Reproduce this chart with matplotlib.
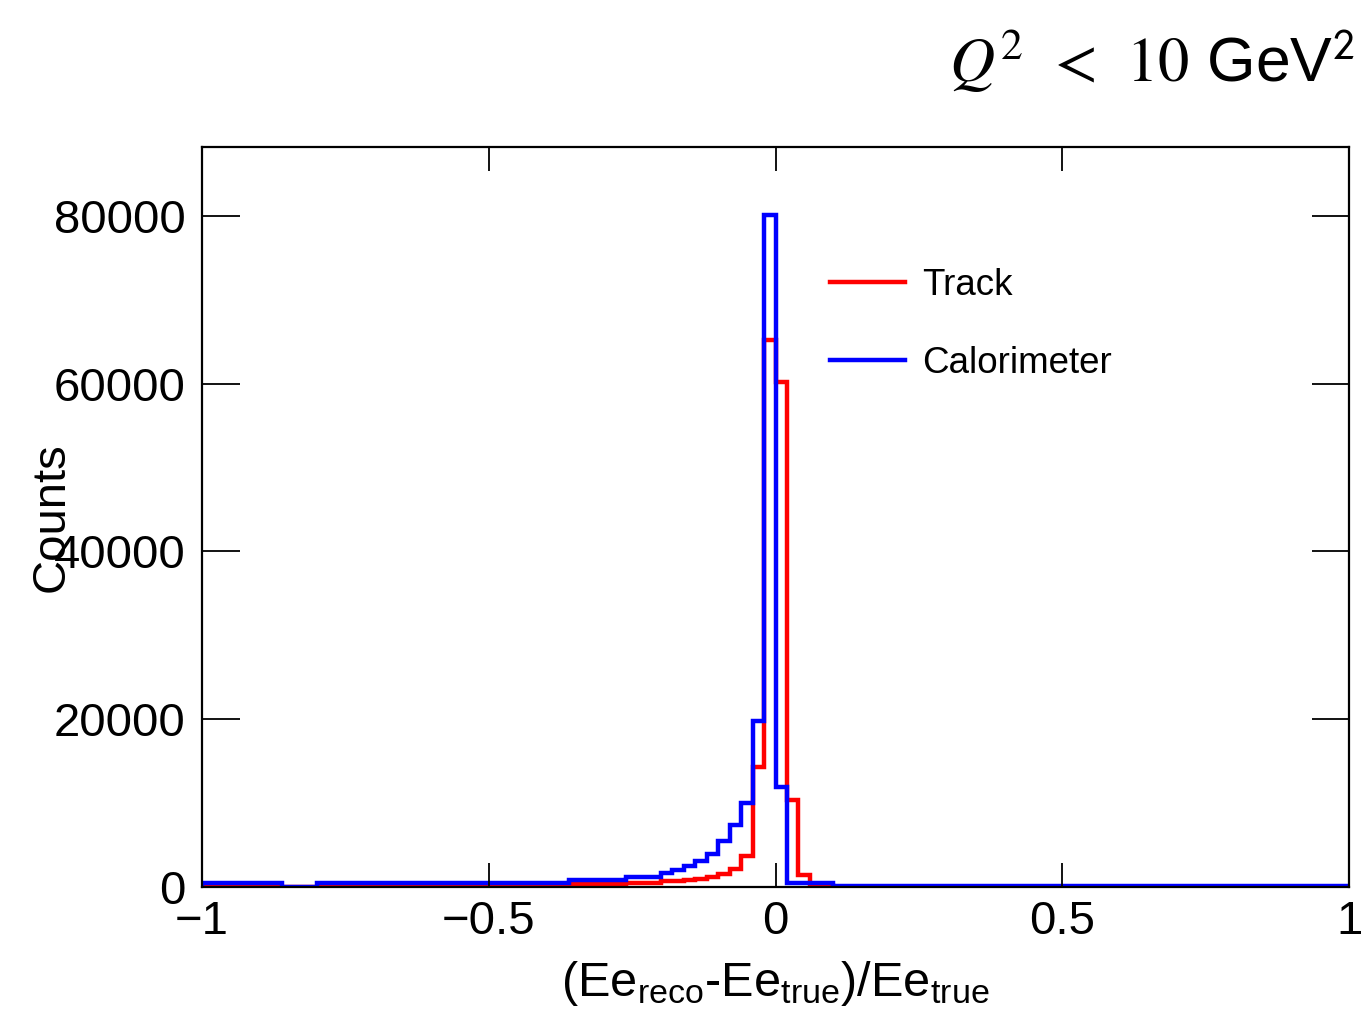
import matplotlib
matplotlib.use("Agg")
import matplotlib.pyplot as plt

# --- Werte (Bins zu 0.02, flache Bereiche zusammengefasst) ---
track_edges = [-1.0, -0.36, -0.26, -0.20, -0.16, -0.14, -0.12, -0.10, -0.08, -0.06,
               -0.04, -0.02, 0.0, 0.02, 0.04, 0.06, 0.10, 1.0]
track_counts = [60, 320, 520, 680, 850, 990, 1230, 1510, 2190, 3690,
                14300, 65200, 60200, 10400, 1450, 150, 50]

calo_edges = [-1.0, -0.86, -0.80, -0.36, -0.26, -0.20, -0.18, -0.16, -0.14, -0.12,
              -0.10, -0.08, -0.06, -0.04, -0.02, 0.0, 0.02, 0.04, 0.10, 1.0]
calo_counts = [420, 60, 420, 780, 1200, 1700, 2080, 2450, 3100, 3950,
               5500, 7450, 10050, 19800, 80100, 11900, 520, 440, 150]

x_ticks = [-1, -0.5, 0, 0.5, 1]
x_ticklabels = ["\u22121", "\u22120.5", "0", "0.5", "1"]
y_ticks = [0, 20000, 40000, 60000, 80000]
y_ticklabels = ["0", "20000", "40000", "60000", "80000"]

plt.rcParams["font.family"] = ["Liberation Sans", "DejaVu Sans"]
plt.rcParams["mathtext.fontset"] = "custom"
plt.rcParams["mathtext.rm"] = "Liberation Sans"
plt.rcParams["mathtext.it"] = "Liberation Sans:italic"

fig = plt.figure(figsize=(13.69, 10.36), dpi=100)
ax = fig.add_axes([0.1476, 0.1438, 0.8378, 0.7143])

ax.stairs(track_counts, track_edges, color="#ff0000", lw=3.2, label="Track")
ax.stairs(calo_counts, calo_edges, color="#0000ff", lw=3.2, label="Calorimeter")

ax.set_xlim(-1, 1)
ax.set_ylim(0, 88200)
ax.set_xticks(x_ticks)
ax.set_xticklabels(x_ticklabels)
ax.set_yticks(y_ticks)
ax.set_yticklabels(y_ticklabels)
ax.minorticks_off()

for sp in ax.spines.values():
    sp.set_linewidth(1.6)
ax.tick_params(axis="both", direction="in", top=True, right=True, width=1.3,
               labelsize=34, colors="black")
ax.tick_params(axis="x", length=17, pad=9)
ax.tick_params(axis="y", length=27, pad=12)

ax.set_xlabel(r"(Ee$_{\rm reco}$-Ee$_{\rm true}$)/Ee$_{\rm true}$", fontsize=35)
ax.xaxis.set_label_coords(0.5, -0.097)
ax.set_ylabel("Counts", fontsize=34)
ax.yaxis.set_label_coords(-0.112, 0.5)

ax.legend(loc="upper left", bbox_to_anchor=(0.5475, 0.836), frameon=False,
          fontsize=26.5, handlelength=2.05, handletextpad=0.45,
          labelspacing=1.15, borderpad=0, borderaxespad=0)

fig.text(0.9895, 0.921, r"$Q^{2}\;\,<\;\,10$ GeV$^{\mathsf{2}}$", fontsize=45,
         ha="right", va="baseline", math_fontfamily="stix")

fig.savefig("out.png", dpi=100)
